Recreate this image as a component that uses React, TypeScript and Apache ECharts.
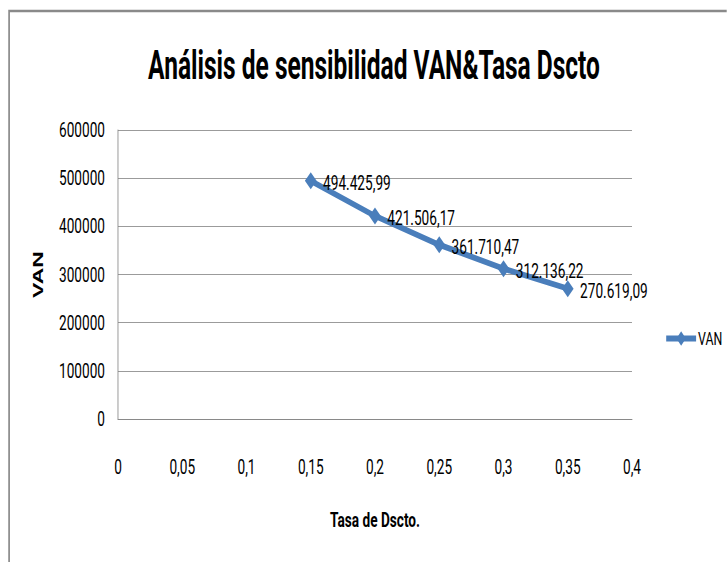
import React, { useEffect, useRef } from "react";
import * as echarts from "echarts";

const TITLE = "Análisis de sensibilidad VAN&Tasa Dscto";
const X_NAME = "Tasa de Dscto.";
const Y_NAME = "VAN";
const SERIES_NAME = "VAN";
const rates = [0.15, 0.2, 0.25, 0.3, 0.35];
const vanValues = [494425.99, 421506.17, 361710.47, 312136.22, 270619.09];

const S = 0.65; // horizontal compression of the whole drawing
const W = Math.round(727 / S);
const H = 562;

function fmtEs(v: number): string {
  const fixed = v.toFixed(2);
  const [int, dec] = fixed.split(".");
  const withDots = int.replace(/\B(?=(\d{3})+(?!\d))/g, ".");
  return withDots + "," + dec;
}

export default function App() {
  const ref = useRef<HTMLDivElement>(null);
  useEffect(() => {
    if (!ref.current) return;
    const chart = echarts.init(ref.current, null, { renderer: "svg", width: W, height: H });
    const titleFont = "bold 40px Roboto";
    let k = 1;
    try {
      const ctx = document.createElement("canvas").getContext("2d");
      if (ctx) {
        ctx.font = titleFont;
        const w = ctx.measureText(TITLE).width;
        if (w > 0) k = 452 / S / w;
      }
    } catch (e) {}
    const data = rates.map((r, i) => [r, vanValues[i]]);
    const labelFont = { fontFamily: "Roboto", fontSize: 21, color: "#000" };
    chart.setOption({
      animation: false,
      backgroundColor: "#fff",
      graphic: [
        {
          type: "rect",
          silent: true,
          shape: { x: 14, y: 11, width: 3000, height: 3000 },
          style: { fill: "none", stroke: "#8a8a8a", lineWidth: 2.6 },
        },
        {
          type: "text",
          x: 374 / S,
          y: 65,
          scaleX: k,
          style: {
            text: TITLE,
            font: titleFont,
            fill: "#000",
            align: "center",
            verticalAlign: "middle",
            textAlign: "center",
            textVerticalAlign: "middle",
          },
        },
      ],
      grid: { left: 118 / S, right: W - 632 / S, top: 130, bottom: H - 419 },
      legend: {
        left: 661 / S,
        top: 333 - 9,
        itemWidth: 46,
        itemHeight: 18,
        itemGap: 5,
        lineStyle: { width: 6 },
        textStyle: { fontFamily: "Roboto", fontSize: 19, color: "#000", padding: [0, 0, 0, -2] },
        data: [{ name: SERIES_NAME }],
      },
      xAxis: {
        type: "value",
        min: 0,
        max: 0.4,
        interval: 0.05,
        name: X_NAME,
        nameLocation: "middle",
        nameGap: 90,
        nameTextStyle: { fontFamily: "Roboto", fontWeight: "bold", fontSize: 21, color: "#000" },
        axisLine: { show: true, lineStyle: { color: "#868686", width: 1 } },
        axisTick: { show: false },
        splitLine: { show: false },
        axisLabel: {
          ...labelFont,
          margin: 37,
          formatter: (v: number) => String(+v.toFixed(2)).replace(".", ","),
        },
      },
      yAxis: {
        type: "value",
        min: 0,
        max: 600000,
        interval: 100000,
        name: Y_NAME,
        nameLocation: "middle",
        nameRotate: 90,
        nameGap: 112,
        nameTextStyle: { fontFamily: "Liberation Sans", fontWeight: "bold", fontSize: 23, color: "#000" },
        axisLine: { show: true, lineStyle: { color: "#868686", width: 1 } },
        axisTick: { show: false },
        splitLine: { show: true, lineStyle: { color: "#868686", width: 1 } },
        axisLabel: { ...labelFont, margin: 20, formatter: (v: number) => String(v) },
      },
      series: [
        {
          name: SERIES_NAME,
          type: "line",
          data,
          symbol: "diamond",
          symbolSize: [18, 17],
          showSymbol: true,
          itemStyle: { color: "#4a7ebb" },
          lineStyle: { color: "#4a7ebb", width: 6 },
          label: {
            show: true,
            position: "right",
            distance: 10,
            offset: [0, 2],
            ...labelFont,
            formatter: (p: any) => fmtEs(p.value[1]),
          },
        },
      ],
    });
    return () => chart.dispose();
  }, []);
  return (
    <div
      ref={ref}
      style={{
        position: "fixed",
        left: 0,
        top: 0,
        width: W,
        height: H,
        transform: `scaleX(${S})`,
        transformOrigin: "0 0",
      }}
    />
  );
}
